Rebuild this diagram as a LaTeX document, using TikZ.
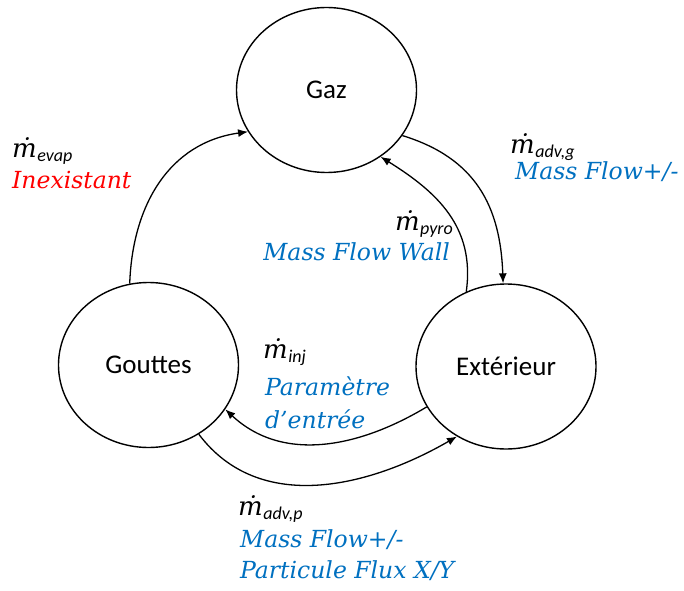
\documentclass[tikz,border=0pt]{standalone}
\usepackage{fontspec}
\setmainfont{Carlito}
\newfontfamily\blfont{DejaVu Serif}
\usetikzlibrary{shapes.geometric,arrows.meta}
\definecolor{mblue}{RGB}{0,112,192}
\definecolor{mred}{RGB}{255,0,0}
\newcommand\mflow[1]{{\blfont\itshape ṁ}\kern0.5pt\raisebox{-4pt}{\fontsize{18}{20}\selectfont\itshape #1}}
\tikzset{
 state/.style={ellipse, draw, line width=1.4pt, minimum width=180pt, minimum height=165pt, inner sep=0pt, font=\fontsize{27}{32}\selectfont},
 flow/.style={line width=1.3pt, -{Latex[length=10pt,width=8pt]}},
 mlab/.style={inner sep=0pt, font=\fontsize{26}{30}\selectfont},
 bluetxt/.style={inner sep=0pt, text=mblue, font=\blfont\itshape\fontsize{23.5}{26}\selectfont},
 redtxt/.style={inner sep=0pt, text=mred, font=\blfont\itshape\fontsize{23.5}{26}\selectfont},
}
\begin{document}
\begin{tikzpicture}[x=1pt,y=1pt]
\useasboundingbox (0,0) rectangle (684,590);
\node[state] (gaz) at (326.5,500) {Gaz};
\node[state] (gout) at (148.5,225) {Gouttes};
\node[state] (ext) at (506,223.5) {Extérieur};

\draw[flow] (gout.103.9) to[out=88, in=188, looseness=1.05] (gaz.208.8);
\draw[flow] (gaz.329.5) to[out=-17, in=92, looseness=1.1] (ext.92);
\draw[flow] (ext.118) to[out=82, in=-32, looseness=1.05] (gaz.309.4);
\draw[flow] (ext.207.1) to[out=211, in=-43] (gout.330.2);
\draw[flow] (gout.306) to[out=-53, in=210] (ext.235.6);

\node[mlab, anchor=base west] (levap) at (12,432) {\mflow{evap}};
\node[redtxt, anchor=base west] (tevap) at (12,402) {Inexistant};

\node[mlab, anchor=base west] (ladvg) at (510,436) {\mflow{adv,g}};
\node[bluetxt, anchor=base west] (tadvg) at (515,410) {Mass Flow+/-};

\node[mlab, anchor=base east] (lpyro) at (453,360) {\mflow{pyro}};
\node[bluetxt, anchor=base east] (tpyro) at (450,330) {Mass Flow Wall};

\node[mlab, anchor=base west] (linj) at (263,232) {\mflow{inj}};
\node[bluetxt, anchor=base west] (tinj1) at (265,195) {Paramètre};
\node[bluetxt, anchor=base west] (tinj2) at (265,162) {d’entrée};

\node[mlab, anchor=base west] (ladvp) at (238,75) {\mflow{adv,p}};
\node[bluetxt, anchor=base west] (tadvp1) at (240,43) {Mass Flow+/-};
\node[bluetxt, anchor=base west] (tadvp2) at (240,12) {Particule Flux X/Y};
\end{tikzpicture}
\end{document}
